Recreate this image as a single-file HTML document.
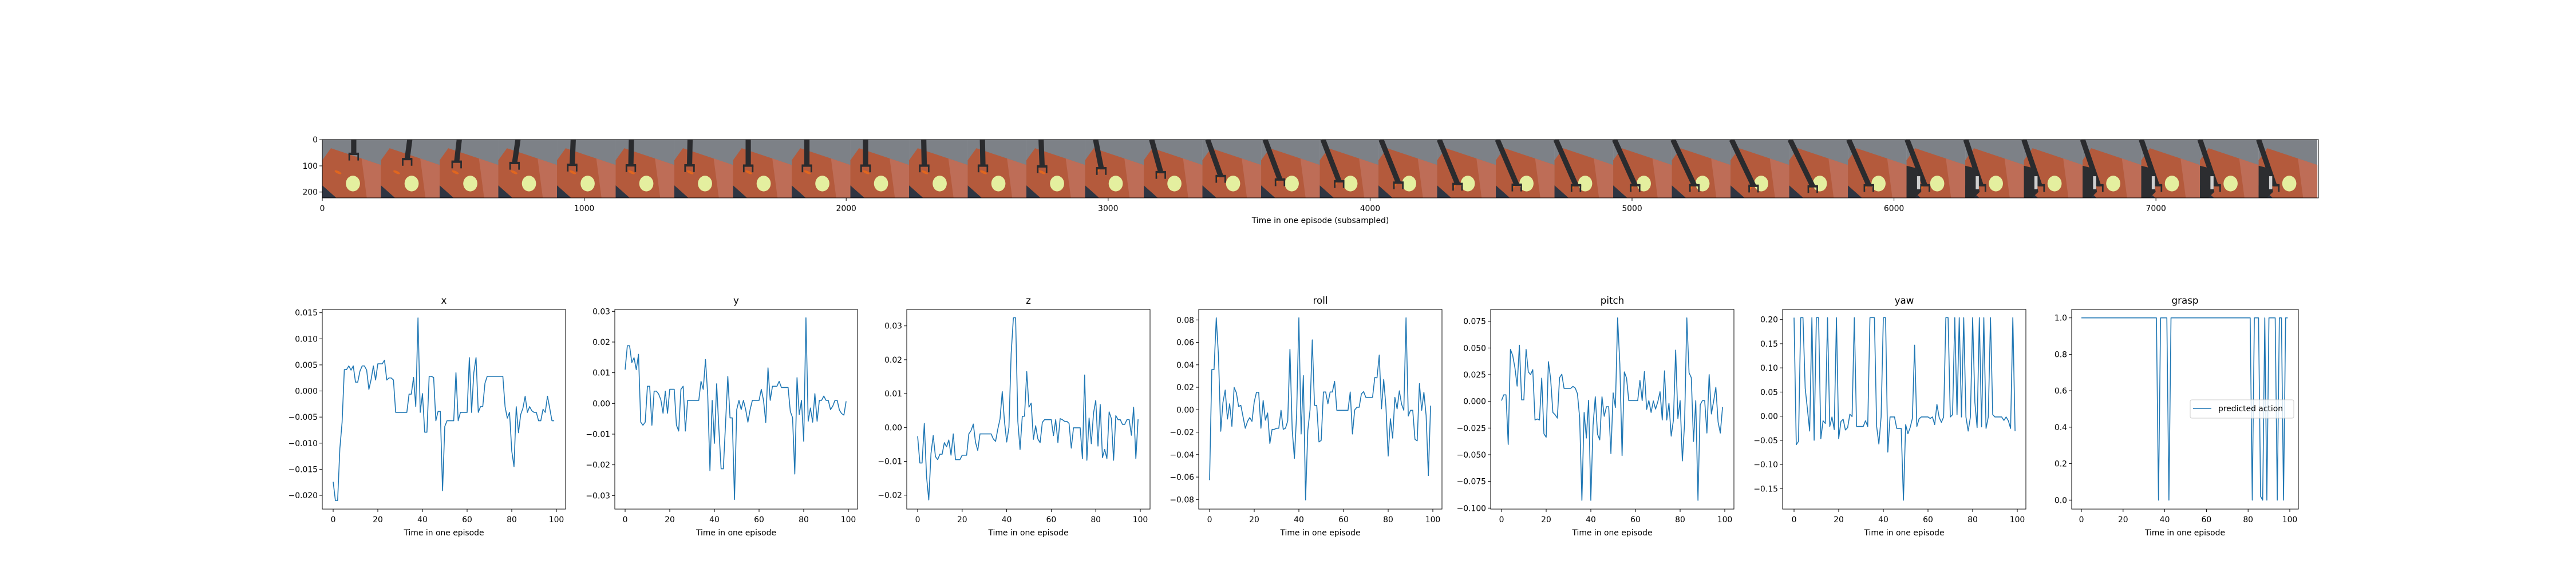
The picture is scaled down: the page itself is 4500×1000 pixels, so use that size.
<!DOCTYPE html>
<html><head><meta charset="utf-8"><style>
html,body{margin:0;padding:0;background:#fff}
svg{display:block}
text{font-family:"DejaVu Sans","Liberation Sans",sans-serif;fill:#000}
</style></head><body>
<svg id="fig" width="4500" height="1000" viewBox="0 0 4500 1000" xmlns="http://www.w3.org/2000/svg">
<rect width="4500" height="1000" fill="#fff"/>
<g id="strip"></g>
<g id="panels"></g>
</svg>
<script>
const NS="http://www.w3.org/2000/svg";
const TIME_TICKS=[0,20,40,60,80,100];
const xData=[-0.0174,-0.021,-0.021,-0.011,-0.006,0.0041,0.0041,0.0048,0.004,0.0048,0.0017,0.0017,0.0038,0.0048,0.0048,0.004,0.0003,0.0022,0.0048,0.0021,0.0052,0.0052,0.0052,0.0059,0.0021,0.0025,0.0025,0.0021,-0.0041,-0.0041,-0.0041,-0.0041,-0.0041,-0.0041,-0.0006,-0.0006,0.0026,-0.003,0.014,-0.0041,-0.0005,-0.0079,-0.0079,0.0028,0.0028,0.0026,-0.0057,-0.0039,-0.0039,-0.0191,-0.0068,-0.0057,-0.0057,-0.0057,-0.0057,0.0035,-0.0057,-0.0041,-0.0041,-0.0041,-0.0041,0.0064,-0.0041,0.0035,0.0064,-0.0041,-0.003,-0.003,0.0015,0.0028,0.0028,0.0028,0.0028,0.0028,0.0028,0.0028,0.0028,-0.003,-0.0052,-0.0041,-0.0115,-0.0145,-0.003,-0.008,-0.0045,-0.0033,-0.001,-0.0041,-0.003,-0.0038,-0.0041,-0.0041,-0.0057,-0.0057,-0.0035,-0.0041,-0.001,-0.0033,-0.0057,-0.0057];
const yData=[0.011,0.0188,0.0188,0.0133,0.0149,0.011,0.016,-0.0061,-0.0071,-0.0061,0.0056,0.0056,-0.0071,0.004,0.004,0.0031,0.0012,-0.0032,0.004,-0.0032,0.0046,0.0046,0.0046,-0.0071,-0.009,0.0046,0.0056,-0.009,0.001,0.001,0.001,0.001,0.001,0.001,0.0072,0.0046,0.0143,0.0028,-0.0219,0.001,-0.013,0.0064,-0.0083,-0.0213,-0.0213,-0.0064,0.0088,-0.0047,-0.0047,-0.0313,-0.002,0.001,-0.002,0.001,-0.002,-0.0061,-0.002,0.001,0.001,0.001,0.001,0.0046,0.001,-0.0062,0.0116,0.001,0.0056,0.0056,0.0056,0.0072,0.0052,0.0052,0.0052,0.0052,-0.0026,-0.0046,-0.023,0.0084,-0.0036,0.001,-0.0123,0.0279,-0.0058,-0.0015,-0.0061,0.0032,-0.0058,0.001,0.001,0.0024,0.001,0.001,-0.002,-0.0009,0.001,0.001,-0.0022,-0.0033,-0.0038,0.0007];
const zData=[-0.0026,-0.0105,-0.0105,0.0012,-0.0145,-0.0214,-0.0077,-0.0024,-0.0086,-0.0095,-0.0079,-0.0079,-0.0045,-0.0057,-0.0037,-0.0082,-0.0019,-0.0095,-0.0095,-0.0095,-0.0082,-0.0082,-0.0082,-0.0019,-0.0009,0.001,-0.0044,-0.0068,-0.0019,-0.0019,-0.0019,-0.0019,-0.0019,-0.0019,-0.0034,-0.0041,-0.0005,0.0025,0.0106,0.0018,-0.0043,0.0,0.0218,0.0324,0.0324,0.0018,-0.0065,0.0033,0.0033,0.0165,0.006,0.0072,-0.0035,0.0005,-0.0034,-0.0045,0.0015,0.0023,0.0023,0.0023,0.0023,-0.0024,0.0023,-0.0045,0.0026,0.0023,0.0018,0.0018,0.0012,-0.0061,-0.0001,-0.0001,-0.0001,-0.0001,-0.0092,0.0155,-0.0097,0.0028,-0.0048,0.0043,0.008,-0.0055,0.0068,-0.0089,-0.0065,-0.0092,0.0046,0.0026,-0.0097,0.0035,0.0023,0.0023,0.0009,0.0009,0.0023,0.0023,-0.0023,0.006,-0.0092,0.0024];
const rollData=[-0.0627,0.0358,0.0358,0.0819,0.0474,-0.0192,0.0066,0.0175,-0.0083,0.0053,-0.0148,0.0199,0.0151,0.0029,0.0039,-0.0063,-0.0165,-0.0104,-0.007,-0.0104,0.007,0.0155,0.0155,-0.0165,0.0083,-0.0093,-0.0029,-0.0301,-0.0175,-0.0175,-0.0165,-0.0165,-0.0005,-0.0175,-0.0165,-0.01,0.0538,-0.0175,-0.0433,-0.0036,0.0819,-0.0216,0.0304,-0.0803,-0.0185,-0.0002,0.0622,0.0039,0.0039,-0.0287,-0.0273,0.0158,0.0158,0.0053,0.0158,0.0158,0.0253,-0.0005,-0.0005,-0.0005,-0.0005,-0.0005,-0.0005,0.0158,-0.0216,-0.0002,0.0022,0.0022,0.0141,0.0161,0.011,0.011,0.011,0.011,0.0287,0.0284,0.0487,0.0008,0.027,0.0025,-0.0413,-0.008,-0.0253,0.011,0.0008,0.0168,0.0049,-0.0005,0.0819,-0.0056,-0.0005,-0.0005,-0.0263,-0.0277,0.0233,-0.0005,0.0155,-0.0053,-0.0586,0.0036];
const pitchData=[0.0007,0.0061,0.0061,-0.0404,0.0487,0.043,0.0315,0.0143,0.0526,0.0014,0.0014,0.0487,0.0276,0.0251,0.0297,-0.0175,-0.0165,-0.0175,0.0218,-0.0304,-0.0336,0.0372,0.0211,-0.0104,-0.0125,-0.0157,0.0222,0.0254,0.0122,0.0122,0.0122,0.0122,0.014,0.0125,0.0072,-0.0154,-0.0927,-0.0104,-0.0344,0.0011,-0.0927,-0.0225,0.0043,-0.0308,-0.0361,0.0043,-0.014,-0.005,-0.005,-0.049,0.0079,-0.0057,0.0782,0.0347,-0.0508,0.0276,0.0218,0.0007,0.0007,0.0007,0.0007,0.0007,0.0197,0.0007,0.0279,-0.0075,0.0007,-0.0104,0.0004,-0.0072,-0.0004,0.009,-0.0175,0.0286,-0.0175,-0.0018,-0.0326,-0.0175,0.048,-0.0161,0.0007,-0.0558,-0.0204,0.0782,0.0268,0.0222,-0.0376,0.0007,-0.0927,-0.0032,0.0007,0.0007,-0.0297,0.0251,-0.0118,0.0,0.0132,-0.0193,-0.0297,-0.0054];
const yawData=[0.204,-0.059,-0.052,0.204,0.204,0.0577,0.0142,-0.0308,0.204,-0.0498,0.204,0.204,-0.0466,-0.0095,-0.015,0.204,-0.0213,-0.0016,-0.0277,0.204,-0.0466,-0.011,-0.0063,-0.0285,-0.0237,0.004,-0.0008,0.204,-0.0213,-0.0213,-0.0213,-0.0213,-0.0095,-0.0213,0.204,0.204,0.204,-0.0213,-0.0577,-0.0016,0.204,0.204,-0.0743,-0.0016,-0.0016,-0.0016,-0.0253,-0.0253,-0.0253,-0.1739,-0.0174,-0.0364,-0.0237,-0.0047,0.147,-0.0213,-0.0055,-0.0016,-0.0016,-0.0016,-0.0016,-0.0047,-0.0016,-0.0174,0.0245,-0.0024,-0.0126,-0.0016,0.204,0.204,-0.0016,0.0032,0.204,0.0032,0.204,-0.0016,0.204,-0.0016,-0.0308,-0.0016,0.204,0.0285,-0.0237,0.204,-0.0221,0.204,-0.0253,-0.0016,0.204,0.0032,-0.0016,-0.0016,-0.0016,-0.0016,-0.0087,-0.0016,-0.0095,-0.0253,0.204,-0.0308];
const graspData=[1,1,1,1,1,1,1,1,1,1,1,1,1,1,1,1,1,1,1,1,1,1,1,1,1,1,1,1,1,1,1,1,1,1,1,1,1,0,1,1,1,1,0,1,1,1,1,1,1,1,1,1,1,1,1,1,1,1,1,1,1,1,1,1,1,1,1,1,1,1,1,1,1,1,1,1,1,1,1,1,1,1,0,1,1,1,0.02,0,1,0,1,1,1,1,0,1,1,0,1,1];
const xTicks=[-0.020,-0.015,-0.010,-0.005,0.000,0.005,0.010,0.015];
const yTicks=[-0.03,-0.02,-0.01,0.00,0.01,0.02,0.03];
const zTicks=[-0.02,-0.01,0.00,0.01,0.02,0.03];
const rollTicks=[-0.08,-0.06,-0.04,-0.02,0.00,0.02,0.04,0.06,0.08];
const pitchTicks=[-0.100,-0.075,-0.050,-0.025,0.000,0.025,0.050,0.075];
const yawTicks=[-0.15,-0.10,-0.05,0.00,0.05,0.10,0.15,0.20];
const graspTicks=[0.0,0.2,0.4,0.6,0.8,1.0];
const STRIP_TICKS=[0,1000,2000,3000,4000,5000,6000,7000];
const STRIP_YTICKS=[0,100,200];

function el(tag,attrs,parent,txt){const e=document.createElementNS(NS,tag);for(const k in attrs)e.setAttribute(k,attrs[k]);if(txt!==undefined)e.textContent=txt;parent.appendChild(e);return e;}
function fmt(v,d){const s=Math.abs(v).toFixed(d);return (v<-1e-9?"\u2212":"")+s;}

const panels=[
 {name:"x",data:xData,ticks:xTicks,dec:3,L:563,R:988,x0:582,x1:972,vA:0.015,pA:546.7,vB:-0.020,pB:866},
 {name:"y",data:yData,ticks:yTicks,dec:2,L:1074,R:1498,x0:1092,x1:1482,vA:0.03,pA:544.3,vB:-0.03,pB:866.3},
 {name:"z",data:zData,ticks:zTicks,dec:2,L:1584,R:2009,x0:1603,x1:1992,vA:0.03,pA:569.7,vB:-0.02,pB:865.7},
 {name:"roll",data:rollData,ticks:rollTicks,dec:2,L:2094,R:2519,x0:2113,x1:2503,vA:0.08,pA:559.3,vB:-0.08,pB:873.3},
 {name:"pitch",data:pitchData,ticks:pitchTicks,dec:3,L:2604,R:3029,x0:2623,x1:3013,vA:0.075,pA:561.7,vB:-0.1,pB:888.3},
 {name:"yaw",data:yawData,ticks:yawTicks,dec:2,L:3114,R:3539,x0:3134,x1:3524,vA:0.2,pA:558.7,vB:-0.15,pB:854.3},
 {name:"grasp",data:graspData,ticks:graspTicks,dec:1,L:3619,R:4015,x0:3636,x1:4000,vA:1,pA:555.7,vB:0,pB:874.3}
];
const TOP=541,BOT=890;
const root=document.getElementById("panels");
panels.forEach(p=>{
 const g=el("g",{},root);
 
 
 const sx=t=>p.x0+(p.x1-p.x0)*t/100;
 const sy=v=>p.pB+(v-p.vB)*(p.pA-p.pB)/(p.vA-p.vB);
 const t=el("text",{x:(p.L+p.R)/2,y:531,"text-anchor":"middle","font-size":"16.7"},g,p.name);
 
 
 const pts=p.data.map((v,i)=>sx(i).toFixed(2)+","+sy(v).toFixed(2)).join(" ");
 const ln=el("polyline",{points:pts,fill:"none",stroke:"#1f77b4","stroke-width":"1.6","stroke-linejoin":"round"},g);
 
 
 const frame=el("rect",{x:p.L,y:TOP,width:p.R-p.L,height:BOT-TOP,fill:"none",stroke:"#000","stroke-width":"1"},g);
 
 
 TIME_TICKS.forEach(tv=>{
  el("line",{x1:sx(tv),x2:sx(tv),y1:BOT,y2:BOT+5,stroke:"#000","stroke-width":"1"},g);
  const tl=el("text",{x:sx(tv),y:913,"text-anchor":"middle","font-size":"13.9"},g,String(tv));
  
  
 });
 p.ticks.forEach(tv=>{
  const y=sy(tv);
  el("line",{x1:p.L-5,x2:p.L,y1:y,y2:y,stroke:"#000","stroke-width":"1"},g);
  const tl=el("text",{x:p.L-8,y:y+5,"text-anchor":"end","font-size":"13.9"},g,fmt(tv,p.dec));
  
  
 });
 const xl=el("text",{x:(p.L+p.R)/2,y:936,"text-anchor":"middle","font-size":"13.9"},g,"Time in one episode");
 
 
 if(p.name==="grasp"){
  const lg=el("g",{},g);
  
  
  el("rect",{x:3826,y:699,width:181,height:32,rx:3,fill:"#fff","fill-opacity":"0.8",stroke:"#ccc","stroke-width":"1"},lg);
  el("line",{x1:3831,x2:3863,y1:714,y2:714,stroke:"#1f77b4","stroke-width":"1.5"},lg);
  const lt=el("text",{x:3875,y:719,"font-size":"13.9"},lg,"predicted action");
  
  
 }
});

const S=document.getElementById("strip");
const SL=563,ST=244,SB=346,SR=4050,SC=0.4576;
const NF=34,FW=224;
const armTopX=[120,110,75,75,62,60,60,58,58,58,56,56,56,40,30,20,15,12,10,8,6,5,5,4,4,3,3,2,2,0,0,0,0,0];
const armTipX=[120,100,65,62,58,58,58,58,58,58,58,58,60,62,65,70,72,74,76,78,80,82,84,86,88,90,80,70,60,60,60,60,60,60];
const armTipY=[80,100,110,115,122,124,124,125,125,125,125,125,128,135,150,165,178,185,190,195,198,200,200,200,202,204,200,200,200,200,200,200,200,200];
const defs=el("defs",{},S);
const cp=el("clipPath",{id:"stripclip"},defs);
el("rect",{x:SL,y:ST,width:SR-SL,height:SB-ST},cp);
const imgG=el("g",{"clip-path":"url(#stripclip)"},S);
for(let i=0;i<NF;i++){
 const fg=el("g",{transform:`translate(${SL+i*FW*SC},${ST}) scale(${SC})`},imgG);
 
 
 el("rect",{x:0,y:0,width:FW,height:224,fill:"#7d8187"},fg);
 el("polygon",{points:"0,79 33,33 224,97 224,224 0,224",fill:"#b45a3c"},fg);
 el("polygon",{points:"150,72 224,97 224,224 170,224",fill:"#c27563","opacity":"0.7"},fg);
 el("polygon",{points:"0,175 55,224 0,224",fill:"#2f3542"},fg);
 el("ellipse",{cx:117,cy:168,rx:27,ry:30,fill:"#e4ef9f"},fg);
 const cx=i<13?60:armTipX[i]-12, cy=i<13?125:armTipY[i]-20;
 el("ellipse",{cx:cx,cy:cy,rx:14,ry:5,fill:"#e0661f",transform:`rotate(${i<13?25:-60} ${cx} ${cy})`},fg);
 el("line",{x1:armTopX[i],y1:0,x2:armTipX[i],y2:armTipY[i]-25,stroke:"#2a2b2e","stroke-width":"20"},fg);
 el("rect",{x:armTipX[i]-20,y:armTipY[i]-30,width:40,height:9,fill:"#2a2b2e"},fg);
 el("rect",{x:armTipX[i]-20,y:armTipY[i]-25,width:6,height:25,fill:"#2a2b2e"},fg);
 el("rect",{x:armTipX[i]+14,y:armTipY[i]-25,width:6,height:25,fill:"#2a2b2e"},fg);
 if(i>=27){el("polygon",{points:"0,100 40,110 55,200 30,224 0,224",fill:"#2c2d30"},fg);
  el("rect",{x:40,y:140,width:12,height:50,fill:"#cfcfcf"},fg);}
}
el("rect",{x:SL,y:ST,width:SR-SL,height:SB-ST,fill:"none",stroke:"#000","stroke-width":"1"},S);
STRIP_TICKS.forEach(tv=>{
 const x=SL+tv*SC;
 el("line",{x1:x,x2:x,y1:SB,y2:SB+5,stroke:"#000","stroke-width":"1"},S);
 const tl=el("text",{x:x,y:369,"text-anchor":"middle","font-size":"13.9"},S,String(tv));
 
 
});
STRIP_YTICKS.forEach(tv=>{
 const y=ST+(tv+0.5)*SC;
 el("line",{x1:SL-5,x2:SL,y1:y,y2:y,stroke:"#000","stroke-width":"1"},S);
 const tl=el("text",{x:SL-8,y:y+5,"text-anchor":"end","font-size":"13.9"},S,String(tv));
 
 
});
const st=el("text",{x:(SL+SR)/2,y:390,"text-anchor":"middle","font-size":"13.9"},S,"Time in one episode (subsampled)");


</script>
</body></html>
